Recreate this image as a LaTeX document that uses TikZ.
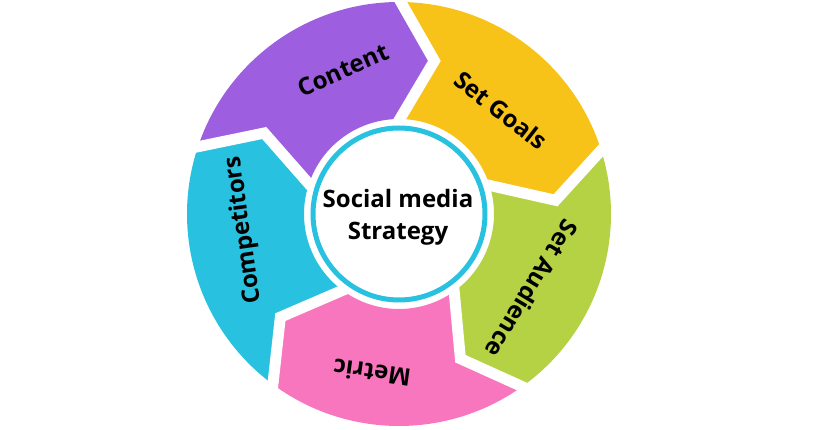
\documentclass[tikz,border=0pt]{standalone}
\usepackage{fontspec}
\setmainfont{Open Sans}
\usetikzlibrary{calc}
\definecolor{cpurple}{RGB}{157,94,224}
\definecolor{cyellow}{RGB}{248,195,24}
\definecolor{cgreen}{RGB}{181,209,68}
\definecolor{cpink}{RGB}{248,118,190}
\definecolor{ccyan}{RGB}{40,193,224}
\begin{document}
\begin{tikzpicture}[x=1pt,y=1pt,
  gapline/.style={white, line width=11pt, line join=miter, miter limit=20},
  lbl/.style={font=\fontsize{24}{32}\selectfont\bfseries, inner sep=0pt, text=black},
  hubstyle/.style={circle, draw=ccyan, line width=5pt, fill=white, minimum size=172pt, inner sep=0pt}]
\useasboundingbox (-399,-216) rectangle (441,214);
\def\Ro{212}\def\Ri{95}\def\Rp{157.2}\def\Off{12.5}
% segments: start angle, end angle, colour
\foreach \as/\ae/\col in {161.5/89.5/cpurple, 89.5/17.5/cyellow, 17.5/-54.5/cgreen, -54.5/-126.5/cpink, -126.5/-198.5/ccyan}{
  \fill[\col] (\as:\Ro) arc[start angle=\as, end angle=\ae, radius=\Ro]
    -- ({\ae-\Off}:\Rp) -- (\ae:\Ri)
    arc[start angle=\ae, end angle=\as, radius=\Ri]
    -- ({\as-\Off}:\Rp) -- cycle;
}
% white gaps along chevron boundaries
\foreach \b [count=\i] in {89.5, 17.5, -54.5, -126.5, 161.5}{
  \coordinate (o\i) at (\b:\Ro);
  \coordinate (p\i) at ({\b-\Off}:\Rp);
  \coordinate (n\i) at (\b:\Ri);
  \draw[gapline] ($(p\i)!1.4!(o\i)$) -- (p\i) -- ($(p\i)!1.4!(n\i)$);
}
\node[hubstyle] (hub) at (0,0) {};
\node[lbl, align=center] (title) at (-1,-3) {Social media\\Strategy};
\node[lbl, rotate=24] (content) at (-56,144) {Content};
\node[lbl, rotate=-38] (goals) at (102,104) {Set Goals};
\node[lbl, rotate=-121] (audience) at (133,-75) {Set Audience};
\node[lbl, rotate=172] (metric) at (-27,-159) {Metric};
\node[lbl, rotate=98] (comp) at (-155,-16) {Competitors};
\end{tikzpicture}
\end{document}
